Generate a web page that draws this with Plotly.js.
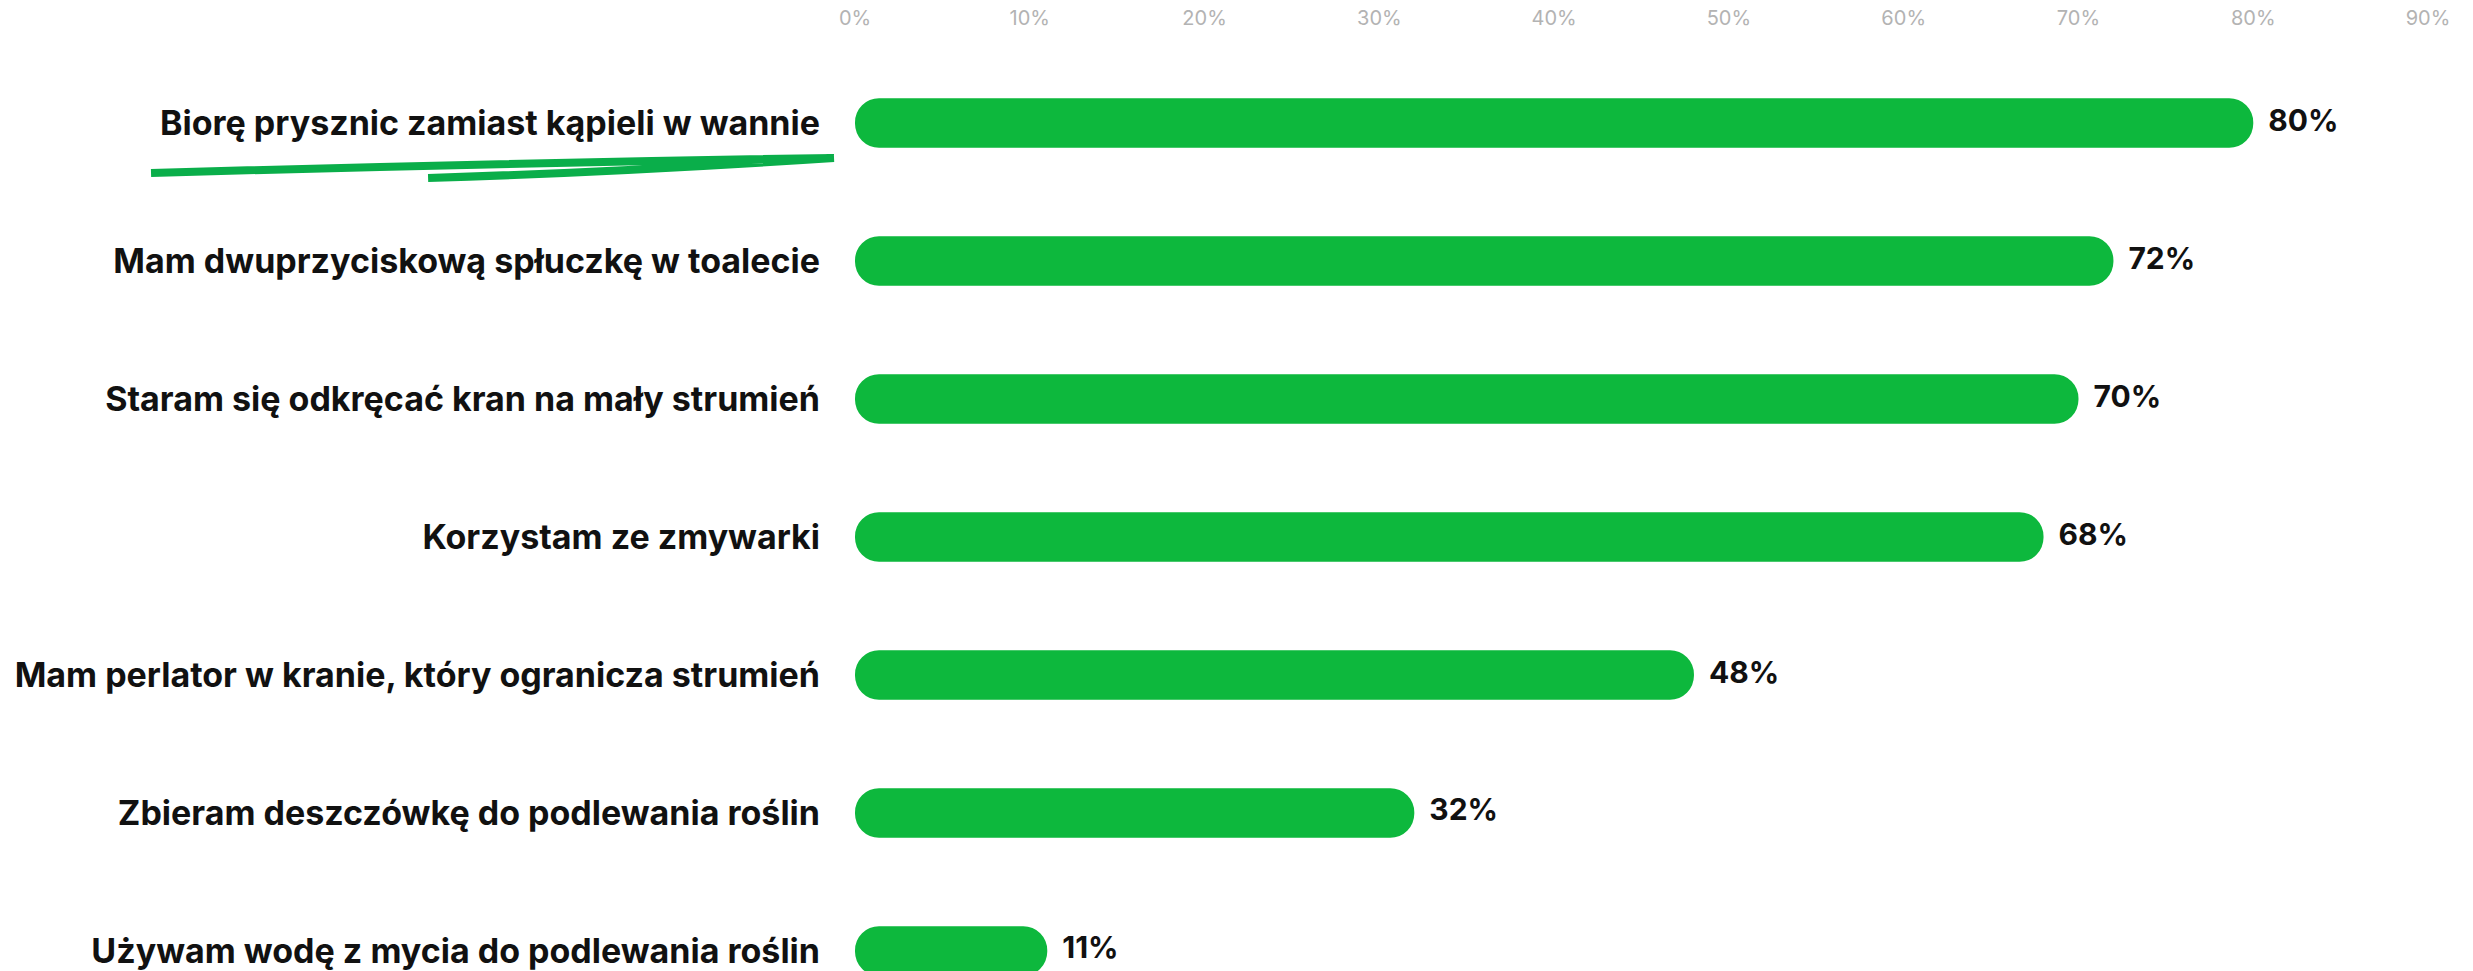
<!DOCTYPE html>
<html>
<head>
<meta charset="utf-8">
<script src="https://cdn.plot.ly/plotly-3.0.1.min.js"></script>
<style>html,body{margin:0;padding:0;background:#fff;}#chart{width:2473px;height:971px;}</style>
</head>
<body>
<div id="chart"></div>
<script>
const categories = [
  "Biorę prysznic zamiast kąpieli w wannie",
  "Mam dwuprzyciskową spłuczkę w toalecie",
  "Staram się odkręcać kran na mały strumień",
  "Korzystam ze zmywarki",
  "Mam perlator w kranie, który ogranicza strumień",
  "Zbieram deszczówkę do podlewania roślin",
  "Używam wodę z mycia do podlewania roślin"
];
const values = [80, 72, 70, 68, 48, 32, 11];
const tickValues = [0, 10, 20, 30, 40, 50, 60, 70, 80, 90];
const tickLabels = ["0%", "10%", "20%", "30%", "40%", "50%", "60%", "70%", "80%", "90%"];

const GREEN = "#0db83d";
const W = 2473, H = 971, L = 855, R = 10, T = 30, B = 0;
const pw = W - L - R, ph = H - T - B;
function px(x) { return ((x - L) / pw).toFixed(4); }
function py(y) { return (1 - (y - T) / ph).toFixed(4); }

// bar drawn from the value back to zero so both ends get rounded
const bars = {
  type: "bar", orientation: "h",
  y: categories, x: values.map(v => -v), base: values,
  marker: { color: GREEN, cornerradius: 25, line: { width: 0 } },
  textposition: "none",
  hoverinfo: "skip"
};
const labels = {
  type: "scatter", mode: "text",
  y: categories, x: values,
  text: values.map(v => "\u2002" + v + "%"),
  textposition: "middle right",
  cliponaxis: false,
  textfont: { family: "Inter, sans-serif", size: 30, color: "#111", weight: 700 },
  hoverinfo: "skip"
};

const squiggle = "M" + px(151) + "," + py(173) +
  " Q" + px(500) + "," + py(163) + " " + px(834) + "," + py(158) +
  " Q" + px(620) + "," + py(172) + " " + px(428) + "," + py(178);

const layout = {
  width: W, height: H,
  margin: { l: L, r: R, t: T, b: B, pad: 0 },
  paper_bgcolor: "#fff", plot_bgcolor: "#fff",
  barmode: "overlay",
  bargap: 0.64,
  showlegend: false,
  xaxis: {
    side: "top", range: [0, 92],
    tickvals: tickValues, ticktext: tickLabels,
    showgrid: false, zeroline: false, showline: false, ticks: "",
    tickfont: { family: "Inter, sans-serif", size: 20, color: "#b3b3b3", weight: 400 },
    fixedrange: true
  },
  yaxis: {
    type: "category",
    range: [6.145, -0.674],
    showgrid: false, zeroline: false, showline: false, ticks: "",
    ticklabelstandoff: 34,
    tickfont: { family: "Inter, sans-serif", size: 34, color: "#111", weight: 700 },
    fixedrange: true
  },
  shapes: [{
    type: "path", xref: "paper", yref: "paper",
    path: squiggle,
    line: { color: "#0aae4a", width: 8 },
    layer: "above"
  }]
};

Plotly.newPlot("chart", [bars, labels], layout, { staticPlot: true, displayModeBar: false });
</script>
</body>
</html>
